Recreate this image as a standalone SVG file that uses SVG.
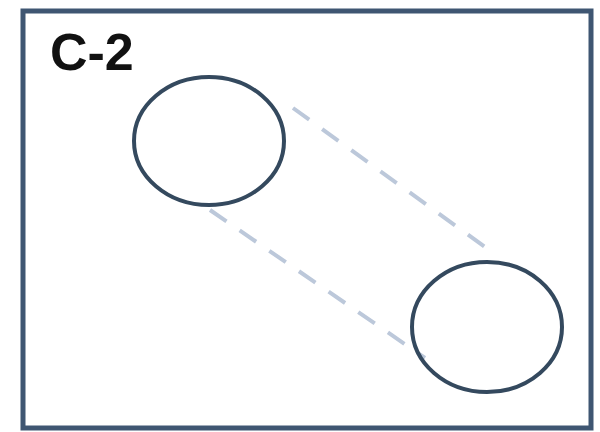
<svg xmlns="http://www.w3.org/2000/svg" width="600" height="432" viewBox="0 0 600 432">
<style>
.node{fill:none;stroke:#34495e;stroke-width:4}
.conn{stroke:#bcc8da;stroke-width:4;stroke-dasharray:20 16;fill:none}
</style>
<rect width="600" height="432" fill="#fff"/>
<g id="frame"><rect x="23" y="11" width="568" height="417" fill="#fff" stroke="#3f5672" stroke-width="5"/>
<text x="50" y="70" font-family="Liberation Sans, Arial, sans-serif" font-weight="bold" font-size="52" fill="#111">C-2</text></g>
<g id="connectors">
<line class="conn" x1="293" y1="108" x2="485" y2="247"/>
<line class="conn" x1="210" y1="210" x2="425" y2="358"/>
</g>
<g id="node1"><ellipse class="node" cx="209" cy="141" rx="75" ry="64"/></g>
<g id="node2"><ellipse class="node" cx="487" cy="327" rx="75" ry="65"/></g>
</svg>
